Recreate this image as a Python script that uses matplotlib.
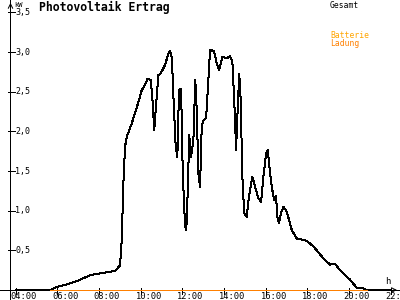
import matplotlib
matplotlib.use('Agg')
import matplotlib.pyplot as plt

# Uhrzeit in Stunden und Leistung "Gesamt" in kW
zeit = [4.0, 5.65, 6.0, 6.45, 7.0, 7.6, 8.05, 8.77, 9.01, 9.09, 9.17, 9.25,
        9.33, 9.57, 9.89, 10.05, 10.21, 10.32, 10.48, 10.56, 10.65, 10.77,
        10.85, 10.96, 11.17, 11.33, 11.41, 11.50, 11.57, 11.68, 11.76, 11.84,
        11.94, 12.02, 12.13, 12.19, 12.26, 12.33, 12.42, 12.53, 12.62, 12.69,
        12.77, 12.85, 12.93, 13.01, 13.14, 13.22, 13.33, 13.52, 13.65, 13.76,
        13.92, 14.13, 14.29, 14.40, 14.49, 14.58, 14.64, 14.73, 14.80, 14.88,
        14.97, 15.09, 15.20, 15.36, 15.49, 15.65, 15.78, 15.89, 16.02, 16.10,
        16.21, 16.32, 16.41, 16.50, 16.56, 16.64, 16.74, 16.85, 17.01, 17.25,
        17.49, 17.65, 17.97, 18.29, 18.77, 19.09, 19.33, 19.57, 20.05, 20.37,
        20.69, 20.85, 22.0]
gesamt = [0.0, 0.0, 0.04, 0.07, 0.12, 0.19, 0.21, 0.24, 0.31, 0.63, 1.35, 1.81,
          1.93, 2.10, 2.37, 2.52, 2.59, 2.66, 2.65, 2.42, 2.02, 2.44,
          2.71, 2.73, 2.84, 2.98, 3.02, 2.92, 2.44, 1.81, 1.68, 2.52,
          2.54, 1.47, 0.80, 0.76, 1.26, 1.95, 1.68, 1.89, 2.65, 2.27,
          1.47, 1.30, 2.06, 2.14, 2.17, 2.52, 3.03, 3.01, 2.86, 2.77,
          2.94, 2.92, 2.95, 2.88, 2.40, 1.77, 2.18, 2.73, 2.40, 1.43,
          0.97, 0.92, 1.18, 1.43, 1.30, 1.16, 1.11, 1.43, 1.72, 1.77,
          1.47, 1.26, 1.13, 1.18, 0.92, 0.84, 0.97, 1.05, 0.99, 0.76,
          0.65, 0.64, 0.62, 0.55, 0.40, 0.32, 0.33, 0.25, 0.13, 0.03,
          0.02, 0.0, 0.0]

# Batterie-Ladung (kW)
ladung_zeit = [5.65, 20.85]
ladung = [0.0, 0.0]

x_ticks = [4, 6, 8, 10, 12, 14, 16, 18, 20, 22]
x_labels = ['04:00', '06:00', '08:00', '10:00', '12:00', '14:00', '16:00',
            '18:00', '20:00', '22:00']
y_ticks = [0.5, 1.0, 1.5, 2.0, 2.5, 3.0, 3.5]
y_labels = ['0,5', '1,0', '1,5', '2,0', '2,5', '3,0', '3,5']

W, H = 400, 300
mono = 'DejaVu Sans Mono'
LW = 0.72

fig = plt.figure(figsize=(4, 3), dpi=100)
ax = fig.add_axes([0, 0, 1, 1])
ax.set_xlim(3.246, 22.449)
ax.set_ylim(-0.126, 3.657)
ax.axis('off')

def px(x, y):
    return x / W, 1 - y / H

# Achsen
ax.axhline(0, color='black', lw=LW, antialiased=False, zorder=1)
ax.axvline(3.75, color='black', lw=LW, antialiased=False, zorder=1)
ax.annotate('', xy=(22.44, 0), xytext=(22.0, 0),
            arrowprops=dict(arrowstyle='->', color='black', lw=LW,
                            mutation_scale=8))
ax.annotate('', xy=(3.75, 3.657), xytext=(3.75, 3.45),
            arrowprops=dict(arrowstyle='->', color='black', lw=LW,
                            mutation_scale=8))

for t, lab in zip(x_ticks, x_labels):
    ax.plot([t, t], [-0.045, 0.03], color='black', lw=LW, antialiased=False)
    ax.text(t - 0.25, -0.112, lab, fontsize=6.3, family=mono,
            ha='left', va='baseline')

for v, lab in zip(y_ticks, y_labels):
    ax.plot([3.61, 3.95], [v, v], color='black', lw=LW, antialiased=False)
    ax.text(3.99, v, lab, fontsize=6.0, family=mono, ha='left', va='center')

fig.text(*px(14, 7), 'kW', fontsize=5, family=mono, ha='left', va='baseline')
fig.text(*px(385, 284), 'h', fontsize=6.5, family=mono, ha='left', va='baseline')

# Kurven
ax.plot(zeit, gesamt, color='black', lw=LW, antialiased=False, zorder=3)
ax.plot(ladung_zeit, ladung, color='#ff8000', lw=LW, antialiased=False, zorder=4)

# Beschriftung
fig.text(*px(39, 11), 'Photovoltaik Ertrag', fontsize=8.3, family=mono,
         weight='bold', ha='left', va='baseline')
fig.text(*px(330, 8.5), 'Gesamt', fontsize=5.8, family=mono,
         ha='left', va='baseline')
fig.text(*px(330, 38.5), 'Batterie', fontsize=5.8, family=mono,
         color='#ffa500', ha='left', va='baseline')
fig.text(*px(330, 46), 'Ladung', fontsize=5.8, family=mono,
         color='#ff8000', ha='left', va='baseline')

fig.savefig('out.png', dpi=100)
